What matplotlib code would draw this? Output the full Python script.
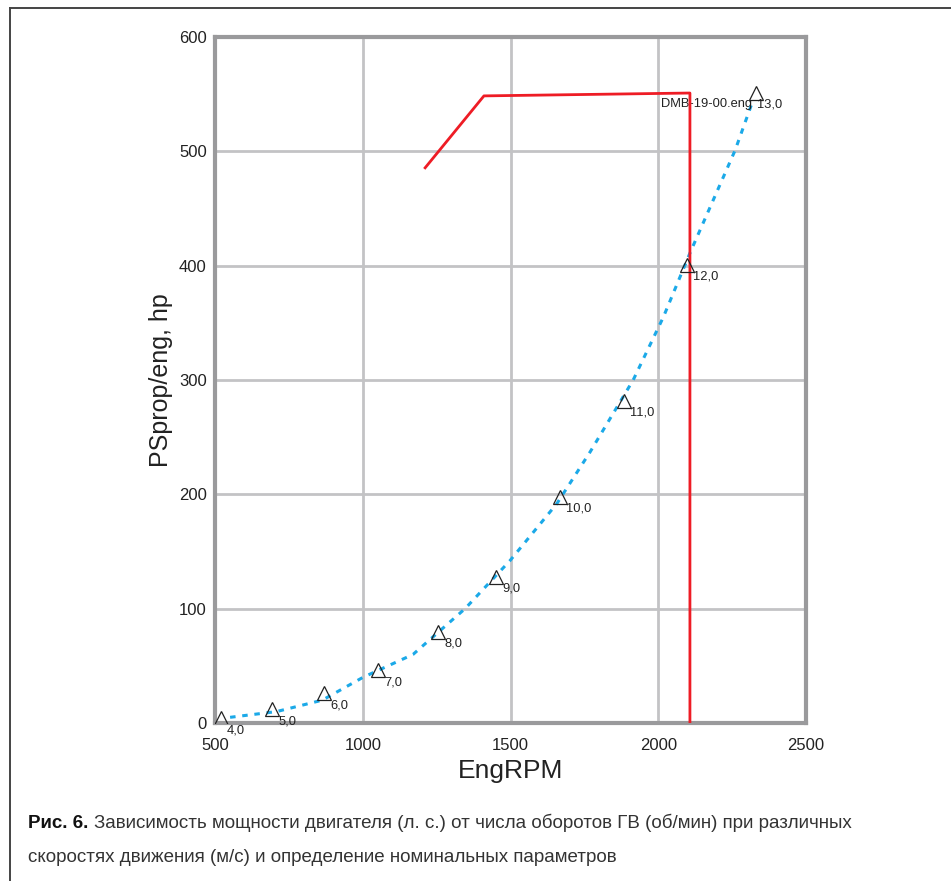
import numpy as np
import matplotlib.pyplot as plt
from matplotlib.lines import Line2D

plt.rcParams['font.family'] = ['Liberation Sans', 'DejaVu Sans']

# speed points (m/s) with rpm and power
speed_labels = ["4,0", "5,0", "6,0", "7,0", "8,0", "9,0", "10,0", "11,0", "12,0", "13,0"]
pt_rpm = [520, 693, 869, 1052, 1255, 1451, 1667, 1884, 2097, 2331]
pt_hp = [4.4, 12, 26, 46, 80, 128, 198, 282, 401, 551]

# propeller curve (dotted)
curve_rpm = [551, 708, 863, 1001, 1170, 1346, 1498, 1657, 1769, 1915, 2017, 2107, 2260, 2321]
curve_hp = [5, 10, 20, 40, 60, 100, 142, 192, 237, 300, 355, 411, 501, 545]

# engine limit line (red)
eng_rpm = [1211, 1410, 2107, 2107]
eng_hp = [485.6, 548.5, 551, 0]

fig = plt.figure(figsize=(9.51, 8.81), dpi=100)
ax = fig.add_axes([0.2261, 0.1793, 0.6215, 0.7787])

ax.plot(curve_rpm, curve_hp, color='#1ba9e8', lw=2.2, ls=(0, (1.8, 2.2)), zorder=3)
ax.plot(eng_rpm, eng_hp, color='#ee1c25', lw=2, zorder=4)
ax.plot(pt_rpm, pt_hp, ls='none', marker='^', ms=10, mfc='none', mec='#222222', mew=0.9, zorder=5)

for i in range(len(speed_labels)):
    if i == len(speed_labels) - 1:
        ax.annotate(speed_labels[i], (pt_rpm[i], pt_hp[i]), xytext=(1, -11), textcoords='offset pixels',
                    ha='left', va='center', fontsize=9.3, color='#222222')
        ax.annotate("DMB-19-00.eng", (pt_rpm[i], pt_hp[i]), xytext=(-4, -11), textcoords='offset pixels',
                    ha='right', va='center', fontsize=9.3, color='#222222')
    else:
        ax.annotate(speed_labels[i], (pt_rpm[i], pt_hp[i]), xytext=(6, -12), textcoords='offset pixels',
                    ha='left', va='center', fontsize=9.3, color='#222222')

ax.set_xlim(500, 2500)
ax.set_ylim(0, 600)
ax.set_xticks([500, 1000, 1500, 2000, 2500])
ax.set_yticks([0, 100, 200, 300, 400, 500, 600])
ax.grid(True, color='#c3c3c5', lw=2)
ax.set_axisbelow(True)
for s in ax.spines.values():
    s.set_color('#9a9a9c')
    s.set_linewidth(3)
ax.tick_params(length=0, labelsize=12, labelcolor='#222222')
ax.tick_params(axis='x', pad=11)
ax.tick_params(axis='y', pad=6)
ax.set_xlabel("EngRPM", fontsize=19, color='#222222', labelpad=4)
ax.set_ylabel("PSprop/eng, hp", fontsize=18, color='#222222', labelpad=4)

# frame lines
fig.add_artist(Line2D([10/951, 1], [1 - 8/881, 1 - 8/881], color='#444444', lw=1.4))
fig.add_artist(Line2D([10/951, 10/951], [0, 1 - 8/881], color='#444444', lw=1.4))

# caption
cap_font = ['Liberation Sans Narrow', 'Liberation Sans', 'DejaVu Sans']
t1 = fig.text(28/951, 1 - 823/881, "Рис. 6.", fontsize=13.5, fontweight='bold', color='#111111',
              va='center', ha='left', family=cap_font)
fig.canvas.draw()
bb = t1.get_window_extent()
x2 = (bb.x1 + 6) / fig.bbox.width
fig.text(x2, 1 - 823/881, "Зависимость мощности двигателя (л. с.) от числа оборотов ГВ (об/мин) при различных",
         fontsize=13.5, color='#333333', va='center', ha='left', family=cap_font)
fig.text(28/951, 1 - 857/881, "скоростях движения (м/с) и определение номинальных параметров",
         fontsize=13.5, color='#333333', va='center', ha='left', family=cap_font)

fig.savefig("out.png", dpi=100)
